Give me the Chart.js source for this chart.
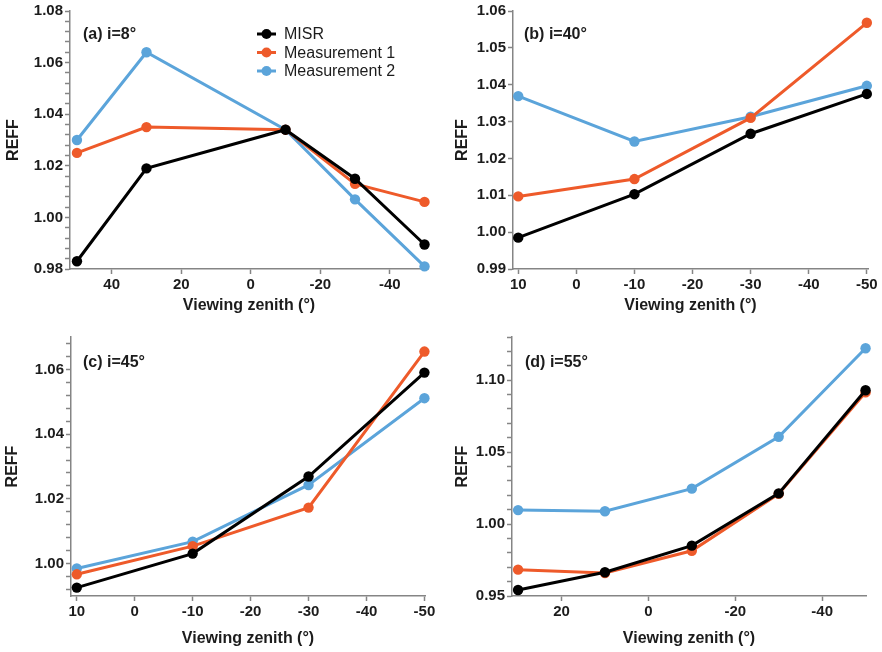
<!DOCTYPE html>
<html>
<head>
<meta charset="utf-8">
<script src="https://cdn.jsdelivr.net/npm/chart.js@4"></script>
<style>
  body { margin: 0; background: #fff; }
  #wrap { position: relative; width: 882px; height: 652px; }
  canvas { position: absolute; }
</style>
</head>
<body>
<div id="wrap">
  <canvas id="pa" width="441" height="320" style="left:0;top:0"></canvas>
  <canvas id="pb" width="441" height="320" style="left:441px;top:0"></canvas>
  <canvas id="pc" width="441" height="332" style="left:0;top:320px"></canvas>
  <canvas id="pd" width="441" height="332" style="left:441px;top:320px"></canvas>
</div>
<script>
// series names, drawn in this order (first on top)
const seriesNames = ["MISR", "Measurement 1", "Measurement 2"];
const seriesColors = ["#000000", "#EE5A2A", "#5BA4DA"];

// (a) i=8°
const aZenith = [50, 30, -10, -30, -50];
const aMisr = [0.983, 1.019, 1.034, 1.015, 0.9895];
const aMeas1 = [1.025, 1.035, 1.034, 1.013, 1.006];
const aMeas2 = [1.030, 1.064, 1.034, 1.007, 0.981];
const aXTicks = [40, 20, 0, -20, -40];
const aYTicks = [0.98, 1.00, 1.02, 1.04, 1.06, 1.08];

// (b) i=40°
const bZenith = [10, -10, -30, -50];
const bMisr = [0.9985, 1.0103, 1.0267, 1.0375];
const bMeas1 = [1.0097, 1.0144, 1.031, 1.0568];
const bMeas2 = [1.0369, 1.0246, 1.0313, 1.0397];
const bXTicks = [10, 0, -10, -20, -30, -40, -50];
const bYTicks = [0.99, 1.00, 1.01, 1.02, 1.03, 1.04, 1.05, 1.06];

// (c) i=45°
const cZenith = [10, -10, -30, -50];
const cMisr = [0.9926, 1.0031, 1.0269, 1.059];
const cMeas1 = [0.9967, 1.0054, 1.0173, 1.0655];
const cMeas2 = [0.9985, 1.0068, 1.0243, 1.0511];
const cXTicks = [10, 0, -10, -20, -30, -40, -50];
const cYTicks = [1.00, 1.02, 1.04, 1.06];

// (d) i=55°
const dZenith = [30, 10, -10, -30, -50];
const dMisr = [0.9542, 0.9665, 0.985, 1.0213, 1.093];
const dMeas1 = [0.9683, 0.966, 0.9814, 1.021, 1.0915];
const dMeas2 = [1.0097, 1.0089, 1.0246, 1.0607, 1.1222];
const dXTicks = [20, 0, -20, -40];
const dYTicks = [0.95, 1.00, 1.05, 1.10];

const FAMILY = "'Liberation Sans', Arial, Helvetica, sans-serif";
const AXIS_GREY = "#858585";
const TEXT = "#1c1c1c";

// minor tick positions, anchored on the first labelled tick
function stepTicks(anchor, min, max, step) {
  const out = [];
  let v = anchor - Math.floor((anchor - min) / step + 1e-9) * step;
  for (; v <= max + 1e-9; v += step) out.push(Math.round(v * 10000) / 10000);
  return out;
}

// panel letter + legend
const panelText = {
  id: "panelText",
  afterDraw(chart, args, opts) {
    const ctx = chart.ctx, a = chart.chartArea;
    ctx.save();
    ctx.textBaseline = "middle";
    ctx.fillStyle = TEXT;
    ctx.font = "bold 16px " + FAMILY;
    ctx.fillText(opts.label, a.left + opts.dx, a.top + opts.dy);
    if (opts.legend) {
      ctx.font = "16px " + FAMILY;
      chart.data.datasets.forEach((ds, i) => {
        const y = a.top + 23 + i * 18.5;
        const x0 = a.left + 187;
        ctx.strokeStyle = ds.borderColor;
        ctx.lineWidth = 3;
        ctx.beginPath();
        ctx.moveTo(x0, y);
        ctx.lineTo(x0 + 19, y);
        ctx.stroke();
        ctx.fillStyle = ds.borderColor;
        ctx.beginPath();
        ctx.arc(x0 + 9.5, y, 5, 0, Math.PI * 2);
        ctx.fill();
        ctx.fillStyle = TEXT;
        ctx.fillText(ds.label, x0 + 27, y + 1);
      });
    }
    ctx.restore();
  }
};

function makePanel(id, p) {
  const series = [p.misr, p.meas1, p.meas2];
  const datasets = series.map((vals, i) => ({
    label: seriesNames[i],
    data: p.zenith.map((x, j) => ({ x: x, y: vals[j] })),
    showLine: true,
    borderColor: seriesColors[i],
    backgroundColor: seriesColors[i],
    borderWidth: 3,
    pointRadius: 5.2,
    pointBorderWidth: 0,
    pointBackgroundColor: seriesColors[i],
    tension: 0,
    clip: false
  }));
  const yAll = p.yMinor ? stepTicks(p.yTicks[0], p.yMin, p.yMax, p.yMinor) : p.yTicks;
  new Chart(document.getElementById(id), {
    type: "scatter",
    data: { datasets: datasets },
    plugins: [panelText],
    options: {
      responsive: false,
      animation: false,
      layout: { padding: p.pad },
      plugins: {
        legend: { display: false },
        tooltip: { enabled: false },
        panelText: { label: p.label, legend: p.legend, dx: p.labelDx, dy: p.labelDy }
      },
      scales: {
        x: {
          type: "linear",
          reverse: true,
          min: p.xMin,
          max: p.xMax,
          afterBuildTicks: s => { s.ticks = p.xTicks.map(v => ({ value: v })); },
          afterFit: s => { s.height = p.xH; },
          ticks: {
            autoSkip: false, maxRotation: 0, padding: 2, color: TEXT,
            font: { family: FAMILY, size: 15, weight: "bold" },
            callback: v => String(v)
          },
          grid: { drawOnChartArea: false, drawTicks: true, tickLength: 5, tickColor: AXIS_GREY, tickWidth: 1.5 },
          border: { color: AXIS_GREY, width: 1.5 },
          title: {
            display: true, text: "Viewing zenith (°)", color: TEXT,
            font: { family: FAMILY, size: 16, weight: "bold" },
            padding: { top: 0, bottom: p.xTitlePad }
          }
        },
        y: {
          type: "linear",
          min: p.yMin,
          max: p.yMax,
          afterBuildTicks: s => { s.ticks = yAll.map(v => ({ value: v })); },
          afterFit: s => { s.width = p.yW; },
          ticks: {
            autoSkip: false, padding: 2, color: TEXT,
            font: { family: FAMILY, size: 15, weight: "bold" },
            callback: v => p.yTicks.some(m => Math.abs(m - v) < 1e-6) ? v.toFixed(2) : ""
          },
          grid: { drawOnChartArea: false, drawTicks: true, tickLength: 5, tickColor: AXIS_GREY, tickWidth: 1.5 },
          border: { color: AXIS_GREY, width: 1.5 },
          title: {
            display: true, text: "REFF", color: TEXT,
            font: { family: FAMILY, size: 16, weight: "bold" },
            padding: { top: p.yTitlePad, bottom: 0 }
          }
        }
      }
    }
  });
}

makePanel("pa", {
  zenith: aZenith, misr: aMisr, meas1: aMeas1, meas2: aMeas2,
  xTicks: aXTicks, xMin: -51, xMax: 52,
  yTicks: aYTicks, yMin: 0.98, yMax: 1.08, yMinor: 0.004,
  label: "(a) i=8°", legend: true, labelDx: 13, labelDy: 24,
  pad: { left: 0, right: 13, top: 11, bottom: 0 }, yW: 70, xH: 51,
  xTitlePad: 5, yTitlePad: 4
});
makePanel("pb", {
  zenith: bZenith, misr: bMisr, meas1: bMeas1, meas2: bMeas2,
  xTicks: bXTicks, xMin: -50.2, xMax: 10.9,
  yTicks: bYTicks, yMin: 0.99, yMax: 1.06, yMinor: null,
  label: "(b) i=40°", legend: false, labelDx: 11, labelDy: 24,
  pad: { left: 0, right: 14, top: 11, bottom: 0 }, yW: 72, xH: 51,
  xTitlePad: 5, yTitlePad: 12
});
makePanel("pc", {
  zenith: cZenith, misr: cMisr, meas1: cMeas1, meas2: cMeas2,
  xTicks: cXTicks, xMin: -50.1, xMax: 11,
  yTicks: cYTicks, yMin: 0.99, yMax: 1.07, yMinor: 0.004,
  label: "(c) i=45°", legend: false, labelDx: 12, labelDy: 26,
  pad: { left: 0, right: 16, top: 17, bottom: 0 }, yW: 71, xH: 56,
  xTitlePad: 4, yTitlePad: 3
});
makePanel("pd", {
  zenith: dZenith, misr: dMisr, meas1: dMeas1, meas2: dMeas2,
  xTicks: dXTicks, xMin: -50.1, xMax: 31.4,
  yTicks: dYTicks, yMin: 0.95, yMax: 1.13, yMinor: 0.01,
  label: "(d) i=55°", legend: false, labelDx: 13, labelDy: 26,
  pad: { left: 0, right: 16, top: 17, bottom: 0 }, yW: 71, xH: 56,
  xTitlePad: 4, yTitlePad: 12
});
</script>
</body>
</html>
